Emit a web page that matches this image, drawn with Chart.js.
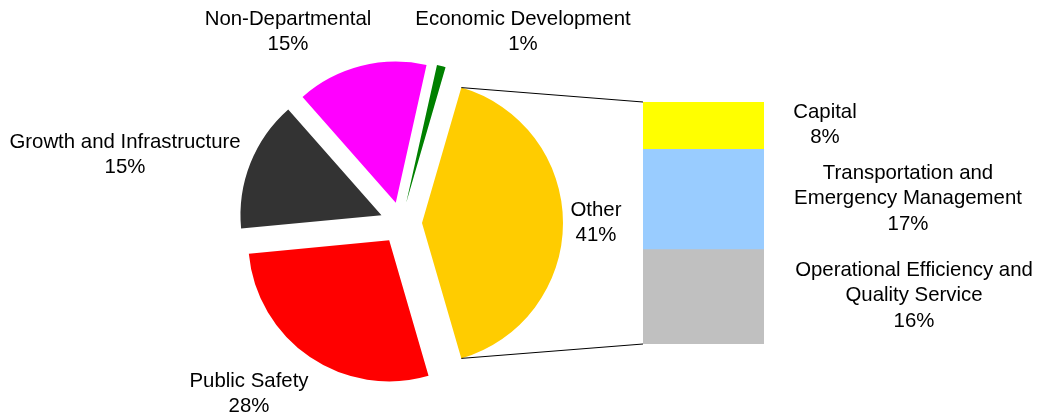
<!DOCTYPE html>
<html><head><meta charset="utf-8">
<script src="https://cdn.jsdelivr.net/npm/chart.js@4.4.1/dist/chart.umd.min.js"></script>
<style>
html,body{margin:0;padding:0;background:#fff;}
#wrap{position:relative;width:1043px;height:414px;overflow:hidden;background:#fff;}
#wrap canvas{position:absolute;}
</style></head><body>
<div id="wrap">
<canvas id="bar" width="121" height="242" style="left:643px;top:102px"></canvas>
<canvas id="pie" width="1043" height="414" style="left:0;top:0"></canvas>
</div>
<script>
// ---- data ----
const pieCategories = ['Other', 'Public Safety', 'Growth and Infrastructure', 'Non-Departmental', 'Economic Development'];
const pieValues = [41, 28, 15, 15, 1];
const pieColors = ['#FFCC00', '#FF0000', '#333333', '#FF00FF', '#008000'];
const subCategories = ['Operational Efficiency and\nQuality Service', 'Transportation and\nEmergency Management', 'Capital'];
const subValues = [16, 17, 8];
const subColors = ['#C0C0C0', '#99CCFF', '#FFFF00'];

// ---- layout ----
const pieLabelPos = [[596, 210], [249, 381], [125, 142], [288, 19], [523, 19]];
const subLabelPos = [[914, 270], [908, 173], [825, 112]];
const LINE_H = 25.7;
const EXPLODE = 21;
const FONT = '20.4px "Liberation Sans", Arial, sans-serif';

const pieTotal = pieValues.reduce((a, b) => a + b, 0);
const subTotal = subValues.reduce((a, b) => a + b, 0);
const pct = v => Math.round(v / pieTotal * 100) + '%';

const barCanvas = document.getElementById('bar');
const barChart = new Chart(barCanvas, {
  type: 'bar',
  data: {
    labels: [''],
    datasets: subCategories.map((c, i) => ({
      label: c, data: [subValues[i]], backgroundColor: subColors[i],
      borderWidth: 0, barPercentage: 1, categoryPercentage: 1
    }))
  },
  options: {
    responsive: false, animation: false, devicePixelRatio: 1,
    layout: { padding: 0 },
    plugins: { legend: { display: false }, tooltip: { enabled: false } },
    scales: {
      x: { stacked: true, display: false },
      y: { stacked: true, display: false, min: 0, max: subTotal }
    }
  }
});

const explodePlugin = {
  id: 'explode',
  beforeDatasetsDraw(chart) {
    const meta = chart.getDatasetMeta(0);
    const ca = chart.chartArea;
    const cx = (ca.left + ca.right) / 2 + (meta.controller.offsetX || 0);
    const cy = (ca.top + ca.bottom) / 2 + (meta.controller.offsetY || 0);
    meta.data.forEach(el => {
      const mid = (el.startAngle + el.endAngle) / 2;
      el.x = cx + EXPLODE * Math.cos(mid);
      el.y = cy + EXPLODE * Math.sin(mid);
    });
  }
};

const connectorPlugin = {
  id: 'connector',
  afterDatasetsDraw(chart) {
    const ctx = chart.ctx;
    const arc = chart.getDatasetMeta(0).data[0];
    const r = arc.outerRadius;
    const p1 = [arc.x + r * Math.cos(arc.startAngle), arc.y + r * Math.sin(arc.startAngle)];
    const p2 = [arc.x + r * Math.cos(arc.endAngle), arc.y + r * Math.sin(arc.endAngle)];
    const ox = barCanvas.offsetLeft, oy = barCanvas.offsetTop;
    const topBar = barChart.getDatasetMeta(subValues.length - 1).data[0];
    const botBar = barChart.getDatasetMeta(0).data[0];
    const left = topBar.x - topBar.width / 2 + ox;
    const top = topBar.y + oy;
    const bottom = botBar.base + oy;
    ctx.save();
    ctx.strokeStyle = '#000';
    ctx.lineWidth = 1;
    ctx.beginPath();
    ctx.moveTo(p1[0], p1[1]); ctx.lineTo(left, top);
    ctx.moveTo(p2[0], p2[1]); ctx.lineTo(left, bottom);
    ctx.stroke();
    ctx.restore();
  }
};

const labelPlugin = {
  id: 'labels',
  afterDraw(chart) {
    const ctx = chart.ctx;
    ctx.save();
    ctx.font = FONT;
    ctx.fillStyle = '#000';
    ctx.textAlign = 'center';
    ctx.textBaseline = 'middle';
    const draw = (lines, pos) => lines.forEach((t, k) => ctx.fillText(t, pos[0], pos[1] + k * LINE_H));
    pieCategories.forEach((c, i) => draw([c, pct(pieValues[i])], pieLabelPos[i]));
    subCategories.forEach((c, i) => draw(c.split('\n').concat([pct(subValues[i])]), subLabelPos[i]));
    ctx.restore();
  }
};

new Chart(document.getElementById('pie'), {
  type: 'pie',
  data: {
    labels: pieCategories,
    datasets: [{
      data: pieValues, backgroundColor: pieColors, borderWidth: 0,
      rotation: 90 - pieValues[0] / pieTotal * 180, radius: 141
    }]
  },
  options: {
    responsive: false, animation: false, devicePixelRatio: 1,
    layout: { padding: { left: 0, right: 241, top: 32, bottom: 0 } },
    plugins: { legend: { display: false }, tooltip: { enabled: false } }
  },
  plugins: [explodePlugin, connectorPlugin, labelPlugin]
});
</script>
</body></html>
